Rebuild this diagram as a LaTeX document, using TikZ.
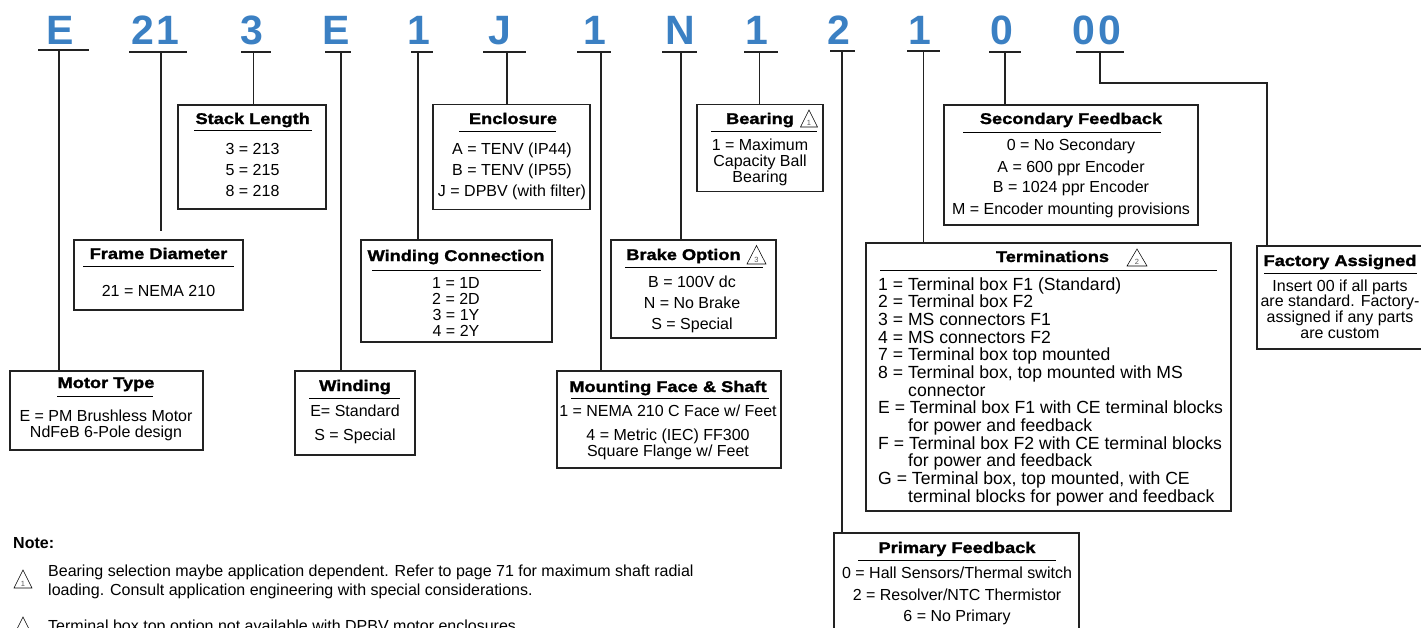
\documentclass[tikz,border=0pt]{standalone}
\usepackage{fontspec}
\setmainfont{Liberation Sans}
\newfontfamily\ttlfont[FakeStretch=1.175,FakeBold=1.6]{Liberation Sans Bold}
\newfontfamily\bigfont{Liberation Sans Bold}
\definecolor{codeblue}{HTML}{3B80C3}
\definecolor{linegray}{HTML}{222222}
\newcommand{\bodysz}{\fontsize{16}{17}\selectfont}
\newcommand{\termsz}{\fontsize{17.6}{17.6}\selectfont}
\tikzset{
  x=1pt,y=-1pt,
  conn/.style={draw=linegray,line width=1.3pt},
  boxr/.style={draw=linegray,line width=1.3pt,fill=white,anchor=north west,inner sep=0pt,outer sep=0pt},
  rulel/.style={draw=black,line width=0.9pt},
  code/.style={font=\bigfont\fontsize{41}{41}\selectfont,text=codeblue,anchor=base,inner sep=0pt},
  ttl/.style={font=\ttlfont\fontsize{15.5}{16}\selectfont,anchor=base,inner sep=0pt},
  txt/.style={font=\bodysz,anchor=base,inner sep=0pt},
  ltxt/.style={font=\termsz,anchor=base west,inner sep=0pt},
  note/.style={font=\bodysz,anchor=base west,inner sep=0pt},
  tri/.style={draw=black,line width=0.55pt,fill=white,line join=miter},
  trin/.style={font=\fontsize{7.5}{8}\selectfont,text=black!65,inner sep=0pt,anchor=base},
}
\begin{document}
\begin{tikzpicture}
\useasboundingbox (0,0) rectangle (1421,627);
\clip (0,0) rectangle (1421,627);
% code letters
\node[code] (c1) at (60,44) {E};
\node[code] (c2) at (155.5,44) {2\kern2pt 1};
\node[code] (c3) at (252,44) {3};
\node[code] (c4) at (336,44) {E};
\node[code] (c5) at (419,44) {1};
\node[code] (c6) at (500,44) {J};
\node[code] (c7) at (595,44) {1};
\node[code] (c8) at (680,44) {N};
\node[code] (c9) at (757,44) {1};
\node[code] (c10) at (839,44) {2};
\node[code] (c11) at (919.5,44) {1};
\node[code] (c12) at (1002,44) {0};
\node[code] (c13) at (1097,44) {0\kern4pt 0};
% underlines
\coordinate (u1) at (59,50);  \draw[conn] (38,50) -- (89,50);
\coordinate (u2) at (161,52); \draw[conn] (129,52) -- (187,52);
\coordinate (u3) at (253.5,52); \draw[conn] (241,52) -- (271,52);
\coordinate (u4) at (341,52); \draw[conn] (325,52) -- (351,52);
\coordinate (u5) at (418,52); \draw[conn] (411,52) -- (433,52);
\coordinate (u6) at (507,52); \draw[conn] (483,52) -- (526,52);
\coordinate (u7) at (601,52); \draw[conn] (577,52) -- (611,52);
\coordinate (u8) at (681,52); \draw[conn] (662,52) -- (697,52);
\coordinate (u9) at (759.5,52); \draw[conn] (744,52) -- (778,52);
\coordinate (u10) at (842,51); \draw[conn] (830,51) -- (855,51);
\coordinate (u11) at (923.5,51); \draw[conn] (907,51) -- (940,51);
\coordinate (u12) at (1005,52); \draw[conn] (989,52) -- (1021,52);
\coordinate (u13) at (1100,52); \draw[conn] (1076,52) -- (1124,52);
% boxes as nodes
\node[boxr,minimum width=193pt,minimum height=79pt] (motor) at (10,371) {};
\node[boxr,minimum width=169pt,minimum height=70pt] (frame) at (74,240) {};
\node[boxr,minimum width=148pt,minimum height=104pt] (stack) at (178,105) {};
\node[boxr,minimum width=120pt,minimum height=84pt] (wind) at (295,371) {};
\node[boxr,minimum width=191pt,minimum height=102pt] (wconn) at (361,240) {};
\node[boxr,minimum width=157pt,minimum height=105pt] (encl) at (433,104.5) {};
\node[boxr,minimum width=224pt,minimum height=97pt] (mount) at (557,371) {};
\node[boxr,minimum width=165pt,minimum height=98pt] (brake) at (611,240) {};
\node[boxr,minimum width=126pt,minimum height=87pt] (bear) at (697,104.5) {};
\node[boxr,minimum width=245pt,minimum height=110pt] (prim) at (834,533) {};
\node[boxr,minimum width=365pt,minimum height=268pt] (term) at (866,243) {};
\node[boxr,minimum width=254pt,minimum height=120pt] (sec) at (944,105) {};
\node[boxr,minimum width=170pt,minimum height=103pt] (fact) at (1257,246) {};
% connectors
\coordinate (f1) at (161,231);
\coordinate (k1) at (1100,83);
\coordinate (k2) at (1267,83);
\draw[conn] (u1) -- (u1 |- motor.north);
\draw[conn] (u2) -- (f1);
\draw[conn] (u3) -- (u3 |- stack.north);
\draw[conn] (u4) -- (u4 |- wind.north);
\draw[conn] (u5) -- (u5 |- wconn.north);
\draw[conn] (u6) -- (u6 |- encl.north);
\draw[conn] (u7) -- (u7 |- mount.north);
\draw[conn] (u8) -- (u8 |- brake.north);
\draw[conn] (u9) -- (u9 |- bear.north);
\draw[conn] (u10) -- (u10 |- prim.north);
\draw[conn] (u11) -- (u11 |- term.north);
\draw[conn] (u12) -- (u12 |- sec.north);
\draw[conn] (u13) -- (k1) -- (k2) -- (k2 |- fact.north);
% stack
\node[ttl] (t1) at (252.7,124) {Stack Length}; \draw[rulel] (194,130.5) -- (312,130.5);
\node[txt] (a1) at (252.5,154) {3 = 213}; \node[txt] (a2) at (252.5,175) {5 = 215}; \node[txt] (a3) at (252.5,196) {8 = 218};
% frame
\node[ttl] (t2) at (158.5,259) {Frame Diameter}; \draw[rulel] (83,266) -- (234,266);
\node[txt] (a4) at (158.5,296) {21 = NEMA 210};
% motor
\node[ttl] (t3) at (106,388) {Motor Type}; \draw[rulel] (57,396) -- (153,396);
\node[txt] (a5) at (106,421) {E = PM Brushless Motor}; \node[txt] (a6) at (106,437) {NdFeB 6-Pole design};
% winding
\node[ttl] (t4) at (355,391) {Winding}; \draw[rulel] (309,398) -- (400,398);
\node[txt] (a7) at (355,416) {E= Standard}; \node[txt] (a8) at (355,440) {S = Special};
% winding conn
\node[ttl] (t5) at (456,261) {Winding Connection}; \draw[rulel] (372,270) -- (541,270);
\node[txt] (a9) at (456,288) {1 = 1D}; \node[txt] (a10) at (456,304) {2 = 2D}; \node[txt] (a11) at (456,320) {3 = 1Y}; \node[txt] (a12) at (456,336) {4 = 2Y};
% enclosure
\node[ttl] (t6) at (513,124) {Enclosure}; \draw[rulel] (459,131) -- (556,131);
\node[txt] (a13) at (512,154) {A = TENV (IP44)}; \node[txt] (a14) at (512,175) {B = TENV (IP55)}; \node[txt] (a15) at (512,196) {J = DPBV (with filter)};
% bearing
\node[ttl] (t7) at (760,124) {Bearing}; \draw[rulel] (711,131.5) -- (817,131.5);
\draw[tri] (809,110) -- (817.5,127) -- (800.5,127) -- cycle; \node[trin] (n1) at (809,125.5) {1};
\node[txt] (a16) at (760,150) {1 = Maximum}; \node[txt] (a17) at (760,166) {Capacity Ball}; \node[txt] (a18) at (760,182) {Bearing};
% brake
\node[ttl] (t8) at (683.5,260) {Brake Option}; \draw[rulel] (625,267) -- (763,267);
\draw[tri] (756.5,245.5) -- (766,264) -- (747,264) -- cycle; \node[trin] (n2) at (756.5,262.5) {3};
\node[txt] (a19) at (692,287) {B = 100V dc}; \node[txt] (a20) at (692,308) {N = No Brake}; \node[txt] (a21) at (692,329) {S = Special};
% mount
\node[ttl] (t9) at (668,392) {Mounting Face \& Shaft}; \draw[rulel] (571,398) -- (769,398);
\node[txt] (a22) at (668,416) {1 = NEMA 210 C Face w/ Feet}; \node[txt] (a23) at (668,440) {4 = Metric (IEC) FF300}; \node[txt] (a24) at (668,456) {Square Flange w/ Feet};
% secondary
\node[ttl] (t10) at (1071,124) {Secondary Feedback}; \draw[rulel] (963,132) -- (1161,132);
\node[txt] (a25) at (1071,150) {0 = No Secondary}; \node[txt] (a26) at (1071,172) {A = 600 ppr Encoder}; \node[txt] (a27) at (1071,192.5) {B = 1024 ppr Encoder}; \node[txt] (a28) at (1071,214) {M = Encoder mounting provisions};
% factory
\node[ttl] (t11) at (1340,266) {Factory Assigned}; \draw[rulel] (1264,273) -- (1417,273);
\node[txt] (a29) at (1340,291) {Insert 00 if all parts}; \node[txt] (a30) at (1340,306.5) {are standard. Factory-}; \node[txt] (a31) at (1340,322.5) {assigned if any parts}; \node[txt] (a32) at (1340,338) {are custom};
% terminations
\node[ttl] (t12) at (1052.5,262) {Terminations}; \draw[rulel] (880,270) -- (1217,270);
\draw[tri] (1137,249) -- (1147,266) -- (1127,266) -- cycle; \node[trin] (n3) at (1137,264.5) {2};
\node[ltxt] (b1) at (878,290) {1 = Terminal box F1 (Standard)};
\node[ltxt] (b2) at (878,307.6) {2 = Terminal box F2};
\node[ltxt] (b3) at (878,325.3) {3 = MS connectors F1};
\node[ltxt] (b4) at (878,343) {4 = MS connectors F2};
\node[ltxt] (b5) at (878,360.6) {7 = Terminal box top mounted};
\node[ltxt] (b6) at (878,378.3) {8 = Terminal box, top mounted with MS};
\node[ltxt] (b7) at (908,396) {connector};
\node[ltxt] (b8) at (878,413.6) {E = Terminal box F1 with CE terminal blocks};
\node[ltxt] (b9) at (908,431.3) {for power and feedback};
\node[ltxt] (b10) at (878,449) {F = Terminal box F2 with CE terminal blocks};
\node[ltxt] (b11) at (908,466.6) {for power and feedback};
\node[ltxt] (b12) at (878,484.3) {G = Terminal box, top mounted, with CE};
\node[ltxt] (b13) at (908,502) {terminal blocks for power and feedback};
% primary
\node[ttl] (t13) at (957,553) {Primary Feedback}; \draw[rulel] (858,560) -- (1056,560);
\node[txt] (a33) at (957,578) {0 = Hall Sensors/Thermal switch}; \node[txt] (a34) at (957,600) {2 = Resolver/NTC Thermistor}; \node[txt] (a35) at (957,621) {6 = No Primary};
% notes
\node[note,font=\bfseries\fontsize{16}{17}\selectfont] (n0) at (13,548) {Note:};
\draw[tri] (23,570) -- (32,588) -- (14,588) -- cycle; \node[trin] (n4) at (23,586.5) {1};
\node[note] (n5) at (48,576) {Bearing selection maybe application dependent. Refer to page 71 for maximum shaft radial};
\node[note] (n6) at (48,595) {loading. Consult application engineering with special considerations.};
\draw[tri] (23,617) -- (32,635) -- (14,635) -- cycle;
\node[note] (n7) at (48,631) {Terminal box top option not available with DPBV motor enclosures.};
\end{tikzpicture}
\end{document}
